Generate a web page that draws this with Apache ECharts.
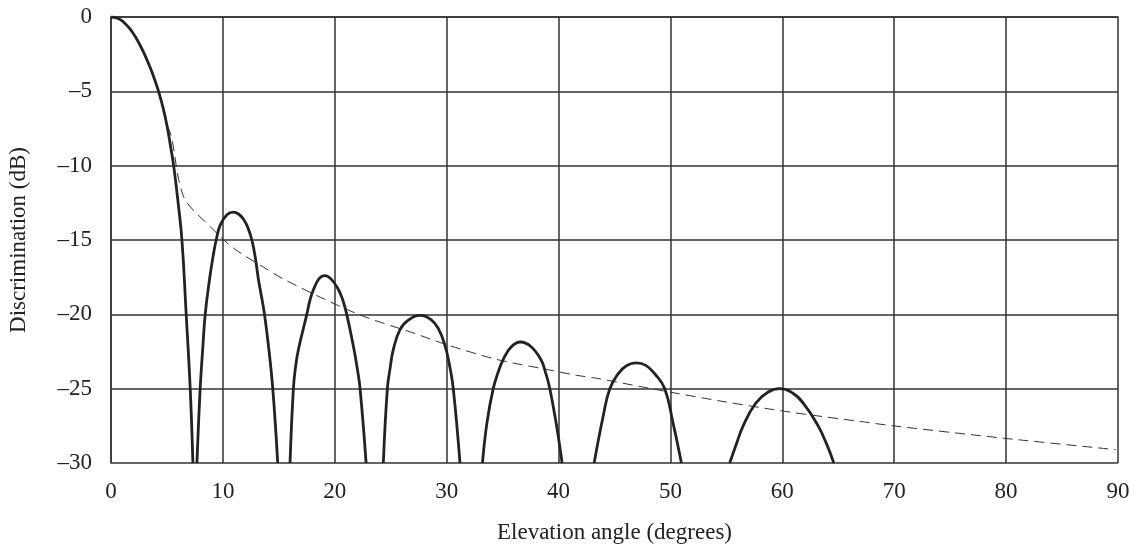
<!DOCTYPE html>
<html>
<head>
<meta charset="utf-8">
<script src="https://cdn.jsdelivr.net/npm/echarts@6/dist/echarts.min.js"></script>
<style>html,body{margin:0;padding:0;background:#fff}#chart{width:1134px;height:554px}</style>
</head>
<body>
<div id="chart"></div>
<script>
// Pattern (solid): lobes, [angle deg, dB]
const mainLobe = [[0,0],[0.4,-0.04],[0.83,-0.18],[1.25,-0.43],[1.7,-0.8],[2.15,-1.3],[2.6,-1.9],[3.05,-2.6],[3.5,-3.4],[3.9,-4.2],[4.25,-5],[4.65,-6.1],[5.0,-7.3],[5.3,-8.6],[5.6,-10],[6.0,-12.5],[6.34,-15],[6.72,-20],[7.08,-25],[7.32,-30]];
const lobe2 = [[7.68,-30],[7.97,-25],[8.2,-22.3],[8.42,-20],[8.8,-17.67],[9.1,-16.2],[9.4,-15],[9.76,-14.0],[10.36,-13.3],[10.95,-13.13],[11.4,-13.25],[11.84,-13.6],[12.2,-14.1],[12.59,-15],[12.9,-16.2],[13.18,-17.67],[13.45,-18.8],[13.72,-20],[14.1,-22.3],[14.46,-25],[14.9,-30]];
const lobe3 = [[16.0,-30],[16.3,-25],[16.5,-23.5],[16.75,-22.37],[17.5,-20],[17.8,-19.0],[18.1,-18.33],[18.6,-17.6],[19.13,-17.4],[19.7,-17.65],[20.32,-18.33],[20.7,-19.0],[21.07,-20],[21.72,-22.37],[22.0,-23.6],[22.26,-25],[22.8,-30]];
const lobe4 = [[24.34,-30],[24.7,-25],[24.95,-23.6],[25.23,-22.37],[25.83,-21.03],[26.6,-20.38],[27.62,-20.07],[28.6,-20.36],[29.25,-20.95],[29.85,-22.1],[30.25,-23.4],[30.59,-25],[31.19,-30]];
const lobe5 = [[33.2,-30],[33.6,-27.3],[34.16,-25],[34.6,-23.9],[35.05,-23.04],[35.8,-22.17],[36.6,-21.86],[37.5,-22.15],[38.42,-23.04],[38.85,-23.95],[39.22,-25],[39.8,-27.4],[40.32,-30]];
const lobe6 = [[43.18,-30],[44.0,-26.8],[44.58,-25],[45.32,-24.0],[46.1,-23.44],[46.96,-23.26],[47.8,-23.43],[48.6,-24.0],[49.49,-25],[50.2,-27.2],[50.98,-30]];
const lobe7 = [[55.3,-30],[55.9,-28.7],[56.5,-27.5],[57.6,-26.0],[58.7,-25.24],[59.76,-25.0],[60.8,-25.23],[61.9,-26.0],[63.2,-27.5],[64.0,-28.8],[64.6,-30]];
// Envelope (dashed)
const envelope = [[0,0],[0.83,-0.18],[1.7,-0.8],[2.6,-1.9],[3.5,-3.4],[4.25,-5],[5.0,-7.2],[5.4,-8.05],[6.5,-12.1],[8.87,-14.1],[10.95,-15.55],[13.9,-16.95],[15.4,-17.62],[19.13,-19.0],[22.55,-20.13],[27.0,-21.25],[30.0,-22.04],[34.5,-23.04],[38.9,-23.7],[41.6,-24.1],[43.4,-24.3],[49.0,-25.1],[55.0,-25.9],[60.9,-26.6],[66.9,-27.2],[69.9,-27.5],[80.0,-28.35],[89.8,-29.1]];
const xTicks = [0,10,20,30,40,50,60,70,80,90];
const yTicks = [0,-5,-10,-15,-20,-25,-30];

const lobes = [mainLobe, lobe2, lobe3, lobe4, lobe5, lobe6, lobe7];

const chart = echarts.init(document.getElementById('chart'), null, {renderer: 'canvas'});
const font = 'Liberation Serif';
const lobeSeries = lobes.map(l => ({
  type: 'line', data: l, showSymbol: false, smooth: 0.45, clip: true,
  lineStyle: {color: '#222', width: 2.8}, z: 4, silent: true
}));
chart.setOption({
  animation: false,
  backgroundColor: '#fff',
  grid: {left: 111, right: 16, top: 17, bottom: 91, containLabel: false, outerBoundsMode: 'none'},
  xAxis: {
    type: 'value', min: xTicks[0], max: xTicks[xTicks.length - 1], interval: 10,
    name: 'Elevation angle (degrees)', nameLocation: 'middle', nameGap: 58,
    nameTextStyle: {fontFamily: font, fontSize: 23, color: '#222'},
    axisLine: {show: true, lineStyle: {color: '#333', width: 1.5}},
    axisTick: {show: false},
    axisLabel: {fontFamily: font, fontSize: 23, color: '#222', margin: 17},
    splitLine: {show: true, lineStyle: {color: '#333', width: 1.5}}
  },
  yAxis: {
    type: 'value', min: yTicks[yTicks.length - 1], max: yTicks[0], interval: 5,
    name: 'Discrimination (dB)', nameLocation: 'middle', nameGap: 81, nameRotate: 90,
    nameTextStyle: {fontFamily: font, fontSize: 23, color: '#222'},
    axisLine: {show: true, lineStyle: {color: '#333', width: 1.5}},
    axisTick: {show: false},
    axisLabel: {fontFamily: font, fontSize: 23, color: '#222', margin: 19,
      formatter: v => String(v).replace('-', '\u2013')},
    splitLine: {show: true, lineStyle: {color: '#333', width: 1.5}}
  },
  series: [
    {type: 'line', data: envelope, showSymbol: false, smooth: 0.3, clip: true,
      lineStyle: {color: '#333', width: 1, type: [10, 6]}, z: 3, silent: true}
  ].concat(lobeSeries)
});
</script>
</body>
</html>
